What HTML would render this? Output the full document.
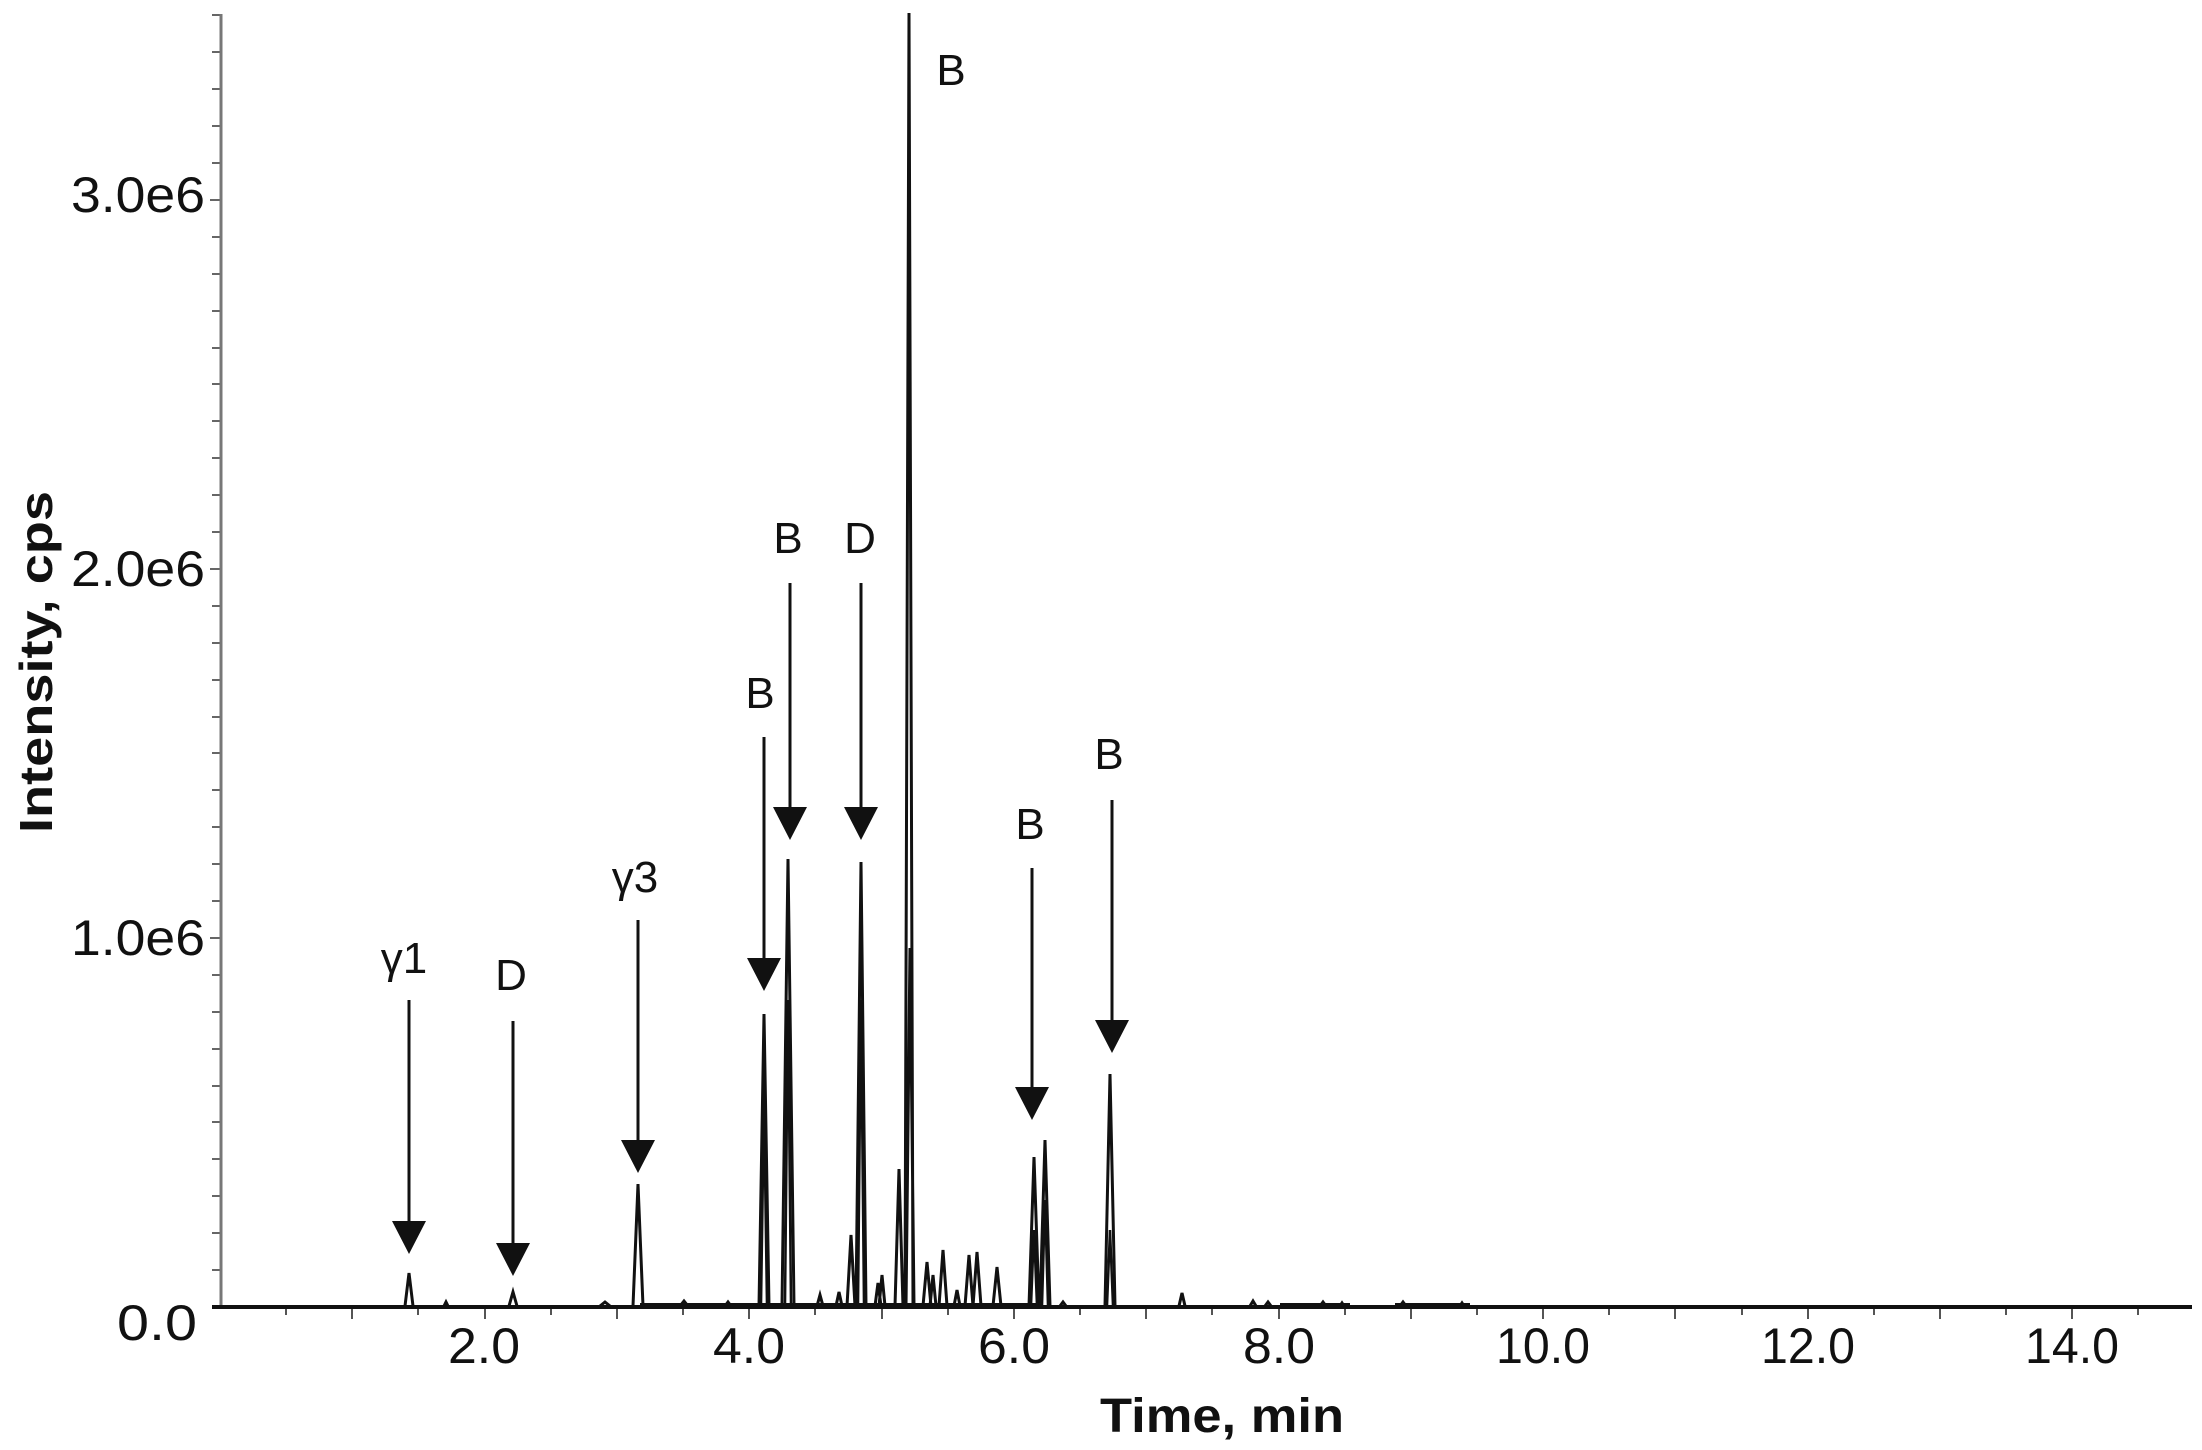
<!DOCTYPE html>
<html><head><meta charset="utf-8"><style>
html,body{margin:0;padding:0;background:#fff;}
svg{display:block;}
text{font-family:"Liberation Sans",sans-serif;fill:#111;}
</style></head><body>
<svg width="2202" height="1450" viewBox="0 0 2202 1450" xmlns="http://www.w3.org/2000/svg">
<g stroke="#666" stroke-width="2">
<path d="M212 1307H220M212 1270H220M212 1233H220M212 1196H220M212 1159H220M212 1122H220M212 1086H220M212 1049H220M212 1012H220M212 975H220M210 938H220M212 901H220M212 864H220M212 827H220M212 790H220M212 753H220M212 717H220M212 680H220M212 643H220M212 606H220M210 569H220M212 532H220M212 495H220M212 458H220M212 421H220M212 384H220M212 348H220M212 311H220M212 274H220M212 237H220M210 200H220M212 163H220M212 126H220M212 89H220M212 52H220M212 15H220"/>
</g>
<line x1="221" y1="14" x2="221" y2="1308" stroke="#777" stroke-width="3"/>
<g stroke="#555" stroke-width="2">
<path d="M286 1307v8M352 1307v12M418 1307v8M485 1307v12M551 1307v8M617 1307v12M683 1307v8M749 1307v12M815 1307v8M882 1307v12M948 1307v8M1014 1307v12M1080 1307v8M1146 1307v12M1212 1307v8M1279 1307v12M1345 1307v8M1411 1307v12M1477 1307v8M1543 1307v12M1609 1307v8M1675 1307v12M1742 1307v8M1808 1307v12M1874 1307v8M1940 1307v12M2006 1307v8M2072 1307v12M2138 1307v8"/>
</g>
<line x1="212" y1="1307" x2="2192" y2="1307" stroke="#111" stroke-width="4"/>
<g fill="none" stroke="#111" stroke-width="3" stroke-linejoin="miter">
<path d="M405 1306L409 1273L413 1306 M509 1306L513 1292L517 1306 M633 1306L638 1184L643 1306
M759 1306L764 1014L769 1306 M782 1306L788 859L794 1306 M856 1306L861 862L866 1306
M905 1306L909 13L913 1306 M906 1306L910 948L914 1306
M847 1306L851 1235L855 1306 M895 1306L899 1169L903 1306 M879 1306L882 1275L885 1306
M875 1306L878 1283L881 1306 M923 1306L927 1262L931 1306 M930 1306L933 1275L936 1306
M939 1306L943 1250L947 1306 M954 1306L957 1290L960 1306 M965 1306L969 1255L973 1306
M973 1306L977 1252L981 1306 M993 1306L997 1267L1001 1306 M817 1306L820 1295L823 1306
M836 1306L839 1292L842 1306 M1029 1306L1034 1157L1039 1306 M1040 1306L1045 1140L1050 1306
M1105 1306L1110 1074L1115 1306 M1179 1306L1182 1293L1185 1306
M444 1306L446 1302L448 1306 M600 1306L605 1302L610 1306 M680 1306L684 1301L688 1306 M725 1306L728 1302L731 1306
M1060 1306L1063 1302L1066 1306 M1250 1306L1253 1301L1256 1306 M1265 1306L1268 1302L1271 1306 M1320 1306L1323 1302L1326 1306
M1340 1306L1342 1303L1344 1306 M1460 1306L1462 1303L1464 1306 M1400 1306L1403 1302L1406 1306"/>
<path d="M640 1304H1040 M1280 1304H1350 M1395 1304H1470" stroke-width="2"/>
<path d="M761 1306L764 1100L767 1306 M785 1306L788 1000L791 1306 M858 1306L861 1000L864 1306 M1031 1306L1034 1230L1037 1306 M1042 1306L1045 1200L1048 1306 M1107 1306L1110 1230L1113 1306" stroke-width="2.5"/>
</g>
<g stroke="#111" stroke-width="3">
<path d="M409 1000V1240 M513 1021V1262 M638 920V1160 M764 737V978 M790 583V824 M861 583V824 M1032 868V1106 M1112 800V1038"/>
</g>
<g fill="#111">
<path d="M392 1221h34l-17 33z M496 1243h34l-17 33z M621 1140h34l-17 33z M747 958h34l-17 33z M773 807h34l-17 33z M844 807h34l-17 33z M1015 1087h34l-17 33z M1095 1020h34l-17 33z"/>
</g>
<g font-size="44" text-anchor="middle">
<text x="404" y="973">γ1</text>
<text x="511" y="990">D</text>
<text x="635" y="892">γ3</text>
<text x="760" y="708">B</text>
<text x="788" y="553">B</text>
<text x="860" y="553">D</text>
<text x="951" y="85">B</text>
<text x="1030" y="839">B</text>
<text x="1109" y="769">B</text>
</g>
<g font-size="50" text-anchor="end">
<text x="205" y="212" textLength="134" lengthAdjust="spacingAndGlyphs">3.0e6</text>
<text x="205" y="586" textLength="134" lengthAdjust="spacingAndGlyphs">2.0e6</text>
<text x="205" y="955" textLength="134" lengthAdjust="spacingAndGlyphs">1.0e6</text>
<text x="197" y="1340" textLength="80" lengthAdjust="spacingAndGlyphs">0.0</text>
</g>
<g font-size="50" text-anchor="middle">
<text x="484" y="1363" textLength="72" lengthAdjust="spacingAndGlyphs">2.0</text>
<text x="749" y="1363" textLength="72" lengthAdjust="spacingAndGlyphs">4.0</text>
<text x="1014" y="1363" textLength="72" lengthAdjust="spacingAndGlyphs">6.0</text>
<text x="1279" y="1363" textLength="72" lengthAdjust="spacingAndGlyphs">8.0</text>
<text x="1543" y="1363" textLength="94" lengthAdjust="spacingAndGlyphs">10.0</text>
<text x="1808" y="1363" textLength="94" lengthAdjust="spacingAndGlyphs">12.0</text>
<text x="2072" y="1363" textLength="94" lengthAdjust="spacingAndGlyphs">14.0</text>
</g>
<text x="1222" y="1432" font-size="48" font-weight="bold" text-anchor="middle" textLength="244" lengthAdjust="spacingAndGlyphs">Time, min</text>
<text transform="translate(52,662) rotate(-90)" font-size="46" font-weight="bold" text-anchor="middle" textLength="342" lengthAdjust="spacingAndGlyphs">Intensity, cps</text>
</svg>
</body></html>
